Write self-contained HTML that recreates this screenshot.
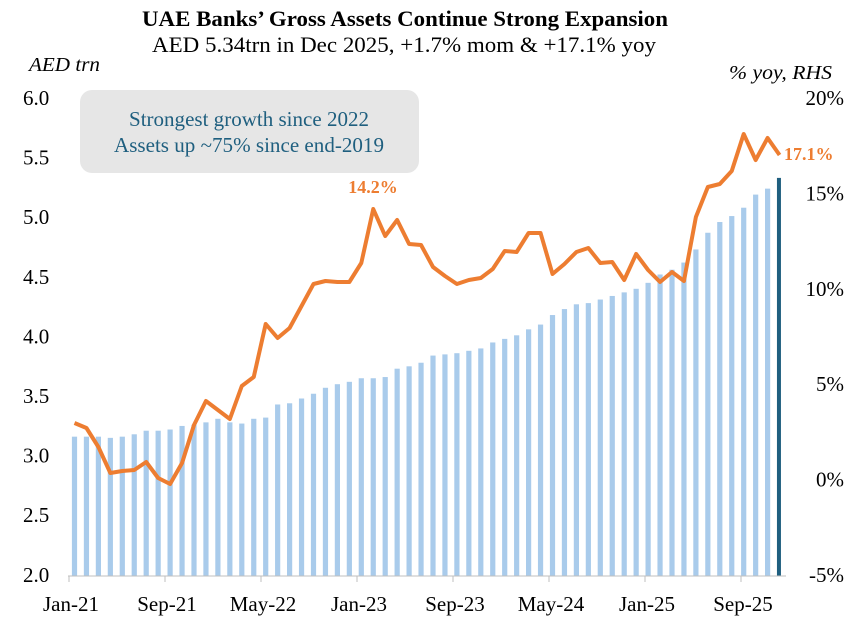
<!DOCTYPE html>
<html><head><meta charset="utf-8"><style>
html,body{margin:0;padding:0;background:#fff}
svg{display:block;font-family:"Liberation Serif",serif}
</style></head><body>
<svg id="c" width="857" height="627" viewBox="0 0 857 627" xmlns="http://www.w3.org/2000/svg">
<text x="405" y="26" text-anchor="middle" font-size="22" font-weight="bold" textLength="526" lengthAdjust="spacingAndGlyphs">UAE Banks’ Gross Assets Continue Strong Expansion</text>
<text x="404" y="52" text-anchor="middle" font-size="22" textLength="504" lengthAdjust="spacingAndGlyphs">AED 5.34trn in Dec 2025, +1.7% mom &amp; +17.1% yoy</text>
<text x="29" y="71" font-size="20" font-style="italic" textLength="71" lengthAdjust="spacingAndGlyphs">AED trn</text>
<text x="729" y="79" font-size="20" font-style="italic" textLength="103" lengthAdjust="spacingAndGlyphs">% yoy, RHS</text>
<rect x="80" y="90" width="339" height="83" rx="12" fill="#e6e6e6"/>
<text x="249" y="126" text-anchor="middle" font-size="21" fill="#1f5f7f" textLength="240" lengthAdjust="spacingAndGlyphs">Strongest growth since 2022</text>
<text x="249" y="152" text-anchor="middle" font-size="21" fill="#1f5f7f" textLength="270" lengthAdjust="spacingAndGlyphs">Assets up ~75% since end-2019</text>
<g id="bars"></g>
<line x1="68" y1="576" x2="786" y2="576" stroke="#bfbfbf" stroke-width="1"/>
<g id="ticks" stroke="#bfbfbf"></g>
<g id="labels" font-size="21"></g>
<polyline id="ln" fill="none" stroke="#ed7d31" stroke-width="4" stroke-linejoin="round"/>
<text x="373" y="193" text-anchor="middle" font-size="18" font-weight="bold" fill="#ed7d31">14.2%</text>
<text x="784" y="160" font-size="18" font-weight="bold" fill="#ed7d31">17.1%</text>
</svg>
<script>
var b=[3.16,3.16,3.16,3.15,3.16,3.18,3.21,3.21,3.22,3.25,3.26,3.28,3.31,3.28,3.27,3.31,3.32,3.43,3.44,3.48,3.52,3.57,3.60,3.62,3.65,3.65,3.66,3.73,3.75,3.78,3.84,3.85,3.86,3.88,3.90,3.95,3.98,4.01,4.06,4.10,4.18,4.23,4.27,4.28,4.31,4.34,4.37,4.40,4.45,4.52,4.56,4.62,4.73,4.87,4.96,5.01,5.08,5.19,5.24,5.33];
var ly=[423,428,447,473,471,470,462,478,484,463,425,401,410,419,386,377,324,338,328,306,284,281,282,282,263,209,236,220,244,245,267,276,284,280,278,269,251,252,233,233,274,264,252,248,263,262,280,254,270,282,272,281,217,187,184,171,134,160,138,155];
var ns="http://www.w3.org/2000/svg",g=document.getElementById('bars');
function X(i){return 74.5+i*11.95;}
function Y(v){return 98+(6-v)*119.25;}
for(var i=0;i<60;i++){var r=document.createElementNS(ns,'rect');var y=Y(b[i]);
r.setAttribute('x',X(i)-2.6);r.setAttribute('y',y);r.setAttribute('width',i==59?4:5.2);r.setAttribute('height',576-y);
r.setAttribute('fill',i==59?'#1f5f7f':'#a9cbeb');g.appendChild(r);}
var p=[];for(i=0;i<60;i++)p.push(X(i)+','+ly[i]);
document.getElementById('ln').setAttribute('points',p.join(' '));
var t=document.getElementById('ticks'),L=document.getElementById('labels');
function txt(x,y,s,a){var e=document.createElementNS(ns,'text');e.setAttribute('x',x);e.setAttribute('y',y);e.setAttribute('text-anchor',a);e.textContent=s;L.appendChild(e);}
var xl=['Jan-21','Sep-21','May-22','Jan-23','Sep-23','May-24','Jan-25','Sep-25'];
for(i=0;i<8;i++){var x=69+i*96;var l=document.createElementNS(ns,'line');l.setAttribute('x1',x);l.setAttribute('x2',x);l.setAttribute('y1',576);l.setAttribute('y2',582);t.appendChild(l);txt(x+2,611,xl[i],'middle');}
var lv=['6.0','5.5','5.0','4.5','4.0','3.5','3.0','2.5','2.0'];
for(i=0;i<9;i++)txt(23,105+i*59.6,lv[i],'start');
var rv=['20%','15%','10%','5%','0%','-5%'];
for(i=0;i<6;i++)txt(844,105+i*95.4,rv[i],'end');
</script>
</body></html>
